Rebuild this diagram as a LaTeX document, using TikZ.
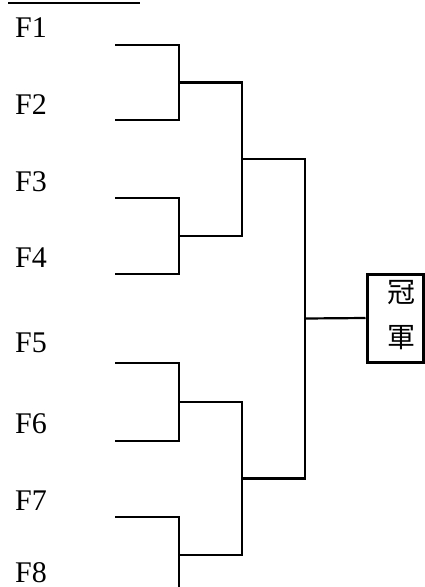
\documentclass[tikz,border=0pt]{standalone}
\usepackage{fontspec}
\setmainfont{Liberation Serif}
\newfontfamily\cjk{Noto Sans CJK TC}
\begin{document}
\begin{tikzpicture}[x=1pt,y=-1pt,
  lab/.style={anchor=base west,inner sep=0pt,font=\fontsize{30}{30}\selectfont},
  br/.style={line width=2.2pt},
  champbox/.style={draw,line width=3pt,minimum width=56pt,minimum height=88pt,inner sep=0pt},
  ch/.style={inner sep=0pt,font=\cjk\fontsize{28}{28}\selectfont}]
\useasboundingbox (0,0) rectangle (425,587);
\begin{scope}
\clip (0,0) rectangle (425,587);
% top underline
\coordinate (u1) at (8,3);
\coordinate (u2) at (140,3);
\draw[br] (u1) -- (u2);
% labels
\node[lab] (F1) at (15,37) {F1};
\node[lab] (F2) at (15,114) {F2};
\node[lab] (F3) at (15,191) {F3};
\node[lab] (F4) at (15,267) {F4};
\node[lab] (F5) at (15,352) {F5};
\node[lab] (F6) at (15,433) {F6};
\node[lab] (F7) at (15,510) {F7};
\node[lab] (F8) at (15,582) {F8};
% entry coordinates
\coordinate (a1) at (115,45);
\coordinate (a2) at (115,120);
\coordinate (a3) at (115,198);
\coordinate (a4) at (115,274);
\coordinate (a5) at (115,363);
\coordinate (a6) at (115,441);
\coordinate (a7) at (115,517);
\coordinate (a8) at (115,593);
% first round
\coordinate (r1) at (179,82.5);
\coordinate (r2) at (179,236);
\coordinate (r3) at (179,402);
\coordinate (r4) at (179,555);
\draw[br] (a1) -| (r1) |- (a2);
\draw[br] (a3) -| (r2) |- (a4);
\draw[br] (a5) -| (r3) |- (a6);
\draw[br] (a7) -| (r4) |- (a8);
% second round
\coordinate (s1) at (242,159);
\coordinate (s2) at (242,478.5);
\draw[br] (r1) -| (s1) |- (r2);
\draw[br] (r3) -| (s2) |- (r4);
% final
\coordinate (t1) at (305,318.5);
\node[champbox] (champ) at (395,318) {};
\draw[br] (s1) -| (t1) |- (s2);
\draw[br] (t1) -- (champ.west);
\node[ch] (c1) at (401,293) {冠};
\node[ch] (c2) at (401,338) {軍};
\end{scope}
\end{tikzpicture}
\end{document}
